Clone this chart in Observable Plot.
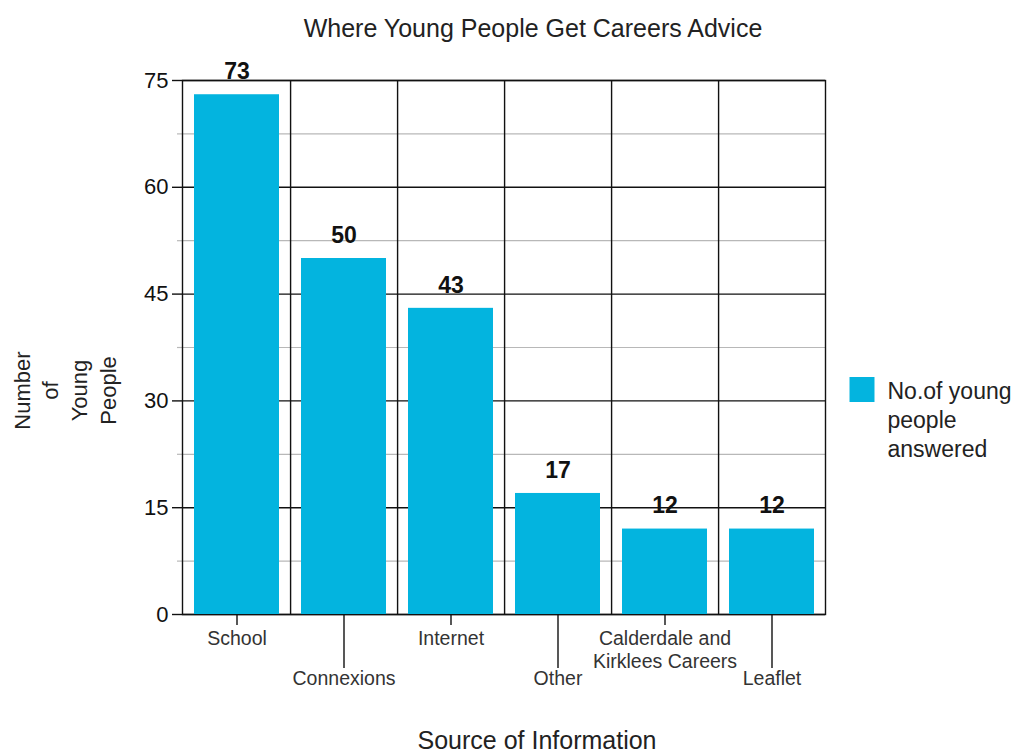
<!DOCTYPE html>
<html>
<head>
<meta charset="utf-8">
<script src="https://cdn.jsdelivr.net/npm/d3@7"></script>
<script src="https://cdn.jsdelivr.net/npm/@observablehq/plot@0.6"></script>
<style>
  html, body { margin: 0; padding: 0; background: #fff; }
</style>
</head>
<body>
<div id="chart"></div>
<script>
const categories = ["School", "Connexions", "Internet", "Other", "Calderdale and\nKirklees Careers", "Leaflet"];
const values = [73, 50, 43, 17, 12, 12];
const majorTicks = [0, 15, 30, 45, 60, 75];
const minorTicks = [7.5, 22.5, 37.5, 52.5, 67.5];
const upperLabels = ["School", "Internet", "Calderdale and\nKirklees Careers"];
const lowerLabels = ["Connexions", "Other", "Leaflet"];
const titleText = "Where Young People Get Careers Advice";
const xTitle = "Source of Information";
const yTitle = "Number\nof\nYoung\nPeople";
const legendText = "No.of young\npeople\nanswered";

const data = categories.map((c, i) => ({category: c, value: values[i]}));

const W = 1023, H = 754;
const mL = 182, mR = 198, mT = 80, mB = 140;
const band = (W - mL - mR) / categories.length;
const barColor = "#03b4df";
const font = "Liberation Sans, Arial, Helvetica, sans-serif";

const chart = Plot.plot({
  width: W,
  height: H,
  marginLeft: mL,
  marginRight: mR,
  marginTop: mT,
  marginBottom: mB,
  style: {fontFamily: font, background: "#fff", color: "#111"},
  x: {type: "band", domain: categories, padding: 0},
  y: {domain: [0, 75]},
  marks: [
    Plot.ruleY(minorTicks, {stroke: "#b8b8b8", strokeWidth: 1.2}),
    Plot.axisY({ticks: minorTicks, tickSize: 5, tickFormat: () => "", stroke: "#b8b8b8", strokeWidth: 1.2, label: null}),
    Plot.ruleY(majorTicks, {stroke: "#111", strokeWidth: 1.4}),
    Plot.ruleX(categories.slice(0, -1), {x: d => d, dx: band / 2, stroke: "#111", strokeWidth: 1.4}),
    Plot.frame({stroke: "#111", strokeWidth: 1.4}),
    Plot.barY(data, {x: "category", y: "value", fill: barColor, insetLeft: 11, insetRight: 11}),
    Plot.axisY({ticks: majorTicks, tickSize: 10, tickPadding: 4, fontSize: 22, strokeWidth: 1.4, label: null}),
    Plot.axisX({ticks: upperLabels, tickSize: 11, tickPadding: 3, fontSize: 19.5, lineHeight: 1.18, fill: "#333", strokeWidth: 1.4, label: null}),
    Plot.axisX({ticks: lowerLabels, tickSize: 54, tickPadding: 3, fontSize: 19.5, fill: "#333", strokeWidth: 1.4, label: null}),
    Plot.text(data, {x: "category", y: "value", text: d => String(d.value), dy: -23, fontSize: 23, fontWeight: "bold", fill: "#111"}),
    Plot.text([titleText], {frameAnchor: "top", lineAnchor: "middle", dx: 29, dy: -52, fontSize: 25, fill: "#222"}),
    Plot.text([xTitle], {frameAnchor: "bottom", lineAnchor: "middle", dx: 33, dy: 126, fontSize: 25, fill: "#222"}),
    Plot.text([yTitle], {frameAnchor: "left", textAnchor: "middle", lineAnchor: "middle", dx: -119, dy: 43, rotate: -90, fontSize: 22, lineHeight: 1.3, fill: "#222"}),
    Plot.dot([0], {frameAnchor: "right", dx: 36.5, dy: 42, symbol: "square", r: 14.1, fill: barColor, stroke: null}),
    Plot.text([legendText], {frameAnchor: "right", textAnchor: "start", lineAnchor: "middle", dx: 62, dy: 71, fontSize: 23, lineHeight: 1.26, fill: "#222"})
  ]
});
document.getElementById("chart").appendChild(chart);
</script>
</body>
</html>
